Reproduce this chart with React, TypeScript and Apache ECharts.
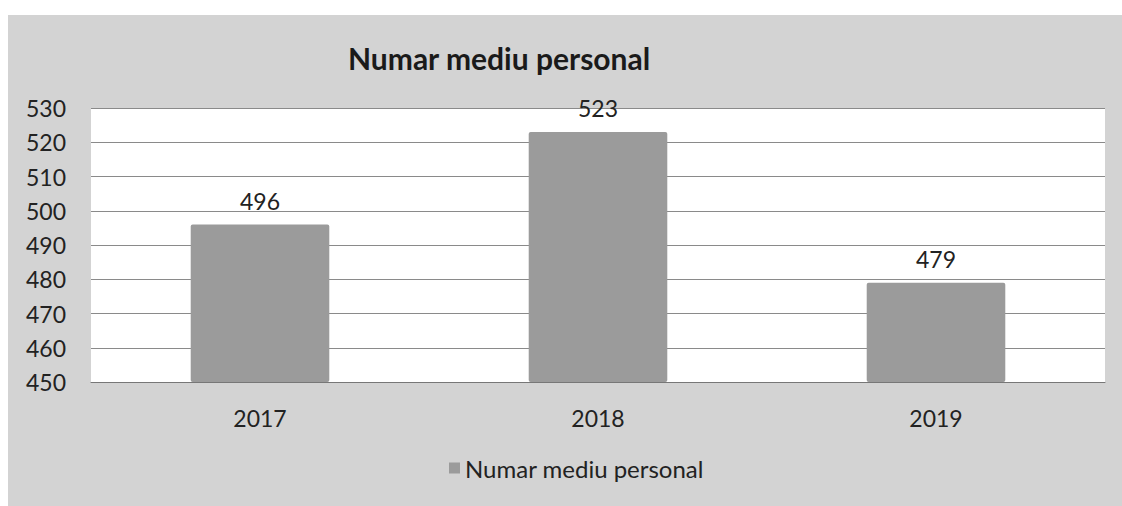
import React, { useEffect, useRef } from "react";
import * as echarts from "echarts";

const categories = ["2017", "2018", "2019"];
const values = [496, 523, 479];
const seriesName = "Numar mediu personal";
const titleText = "Numar mediu personal";

export default function App() {
  const ref = useRef<HTMLDivElement>(null);
  useEffect(() => {
    document.body.style.margin = "0";
    const chart = echarts.init(ref.current!, null, { renderer: "svg" });
    const font = "Lato, 'Open Sans', sans-serif";
    chart.setOption({
      animation: false,
      backgroundColor: "#ffffff",
      graphic: [
        {
          type: "rect",
          z: -10,
          silent: true,
          shape: { x: 8, y: 15, width: 1114, height: 491 },
          style: { fill: "#d3d3d3" },
        },
        {
          type: "rect",
          z: -9,
          silent: true,
          shape: { x: 91, y: 108, width: 1014, height: 274 },
          style: { fill: "#ffffff" },
        },
      ],
      title: {
        text: titleText,
        left: 343,
        top: 38,
        textStyle: { fontFamily: font, fontSize: 30, fontWeight: "bold", color: "#1a1a1a" },
      },
      legend: {
        bottom: 21,
        left: 444,
        itemWidth: 11,
        itemHeight: 11,
        icon: "rect",
        itemGap: 4,
        textStyle: { fontFamily: font, fontSize: 24, color: "#222" },
        data: [seriesName],
      },
      grid: { left: 91, right: 17, top: 108, bottom: 124 },
      xAxis: {
        type: "category",
        data: categories,
        axisTick: { show: false },
        axisLine: { lineStyle: { color: "#777", width: 1 } },
        axisLabel: { fontFamily: font, fontSize: 23, color: "#222", margin: 24 },
      },
      yAxis: {
        type: "value",
        min: 450,
        max: 530,
        interval: 10,
        axisLine: { show: false },
        axisTick: { show: false },
        axisLabel: { fontFamily: font, fontSize: 23, color: "#222", margin: 25 },
        splitLine: { lineStyle: { color: "#8a8a8a", width: 1 } },
      },
      series: [
        {
          name: seriesName,
          type: "bar",
          data: values,
          barWidth: "41%",
          itemStyle: { color: "#9b9b9b", borderRadius: 2 },
          label: {
            show: true,
            position: "top",
            distance: 12,
            fontFamily: font,
            fontSize: 23,
            color: "#222",
          },
        },
      ],
    });
    return () => chart.dispose();
  }, []);
  return <div ref={ref} style={{ width: 1122, height: 506 }} />;
}
